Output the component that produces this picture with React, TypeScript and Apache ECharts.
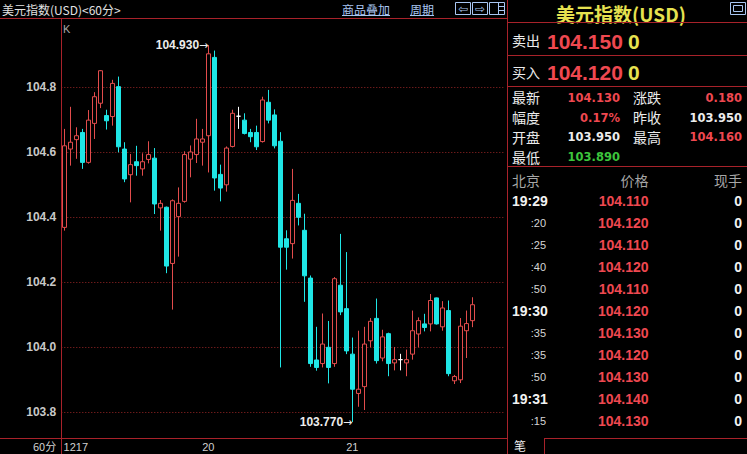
import React, { useEffect, useRef } from 'react';
import * as echarts from 'echarts';

// Hourly candles, each row: [open, close, low, high]
const candles: number[][] = [
  [104.369, 104.620, 104.359, 104.672],
  [104.610, 104.631, 104.559, 104.740],
  [104.639, 104.651, 104.580, 104.677],
  [104.661, 104.569, 104.549, 104.672],
  [104.569, 104.699, 104.565, 104.730],
  [104.689, 104.771, 104.641, 104.785],
  [104.751, 104.851, 104.736, 104.853],
  [104.713, 104.697, 104.670, 104.731],
  [104.710, 104.812, 104.682, 104.823],
  [104.802, 104.617, 104.600, 104.833],
  [104.610, 104.518, 104.508, 104.631],
  [104.531, 104.562, 104.446, 104.595],
  [104.571, 104.559, 104.528, 104.620],
  [104.549, 104.571, 104.528, 104.597],
  [104.578, 104.593, 104.566, 104.634],
  [104.582, 104.441, 104.410, 104.613],
  [104.429, 104.443, 104.359, 104.453],
  [104.431, 104.250, 104.228, 104.433],
  [104.258, 104.451, 104.116, 104.455],
  [104.402, 104.443, 104.279, 104.492],
  [104.449, 104.593, 104.445, 104.603],
  [104.579, 104.601, 104.523, 104.621],
  [104.593, 104.641, 104.567, 104.703],
  [104.631, 104.641, 104.559, 104.672],
  [104.651, 104.903, 104.538, 104.930],
  [104.892, 104.521, 104.482, 104.913],
  [104.532, 104.490, 104.449, 104.562],
  [104.500, 104.613, 104.479, 104.618],
  [104.618, 104.720, 104.615, 104.731],
  [104.711, 104.711, 104.672, 104.740],
  [104.699, 104.658, 104.655, 104.720],
  [104.661, 104.648, 104.631, 104.672],
  [104.661, 104.617, 104.607, 104.682],
  [104.633, 104.761, 104.630, 104.771],
  [104.754, 104.699, 104.689, 104.792],
  [104.715, 104.620, 104.612, 104.732],
  [104.634, 104.308, 103.938, 104.662],
  [104.334, 104.308, 104.239, 104.360],
  [104.319, 104.452, 104.273, 104.549],
  [104.443, 104.400, 104.375, 104.472],
  [104.360, 104.220, 104.140, 104.411],
  [104.213, 103.950, 103.940, 104.221],
  [103.961, 103.938, 103.928, 104.063],
  [103.950, 104.010, 103.938, 104.104],
  [104.000, 103.938, 103.889, 104.081],
  [103.950, 104.211, 103.940, 104.216],
  [104.191, 104.109, 104.099, 104.349],
  [104.119, 103.989, 103.979, 104.293],
  [103.979, 103.871, 103.770, 104.030],
  [103.858, 103.871, 103.817, 104.051],
  [103.879, 104.010, 103.807, 104.063],
  [104.020, 104.080, 104.000, 104.090],
  [104.089, 103.959, 103.950, 104.150],
  [103.967, 104.032, 103.957, 104.054],
  [104.042, 103.950, 103.911, 104.045],
  [103.952, 103.962, 103.929, 104.001],
  [103.962, 103.962, 103.929, 103.980],
  [103.952, 103.962, 103.911, 103.993],
  [103.979, 104.051, 103.962, 104.113],
  [104.041, 104.082, 104.000, 104.092],
  [104.072, 104.061, 104.049, 104.103],
  [104.072, 104.144, 104.049, 104.164],
  [104.152, 104.072, 104.070, 104.153],
  [104.063, 104.121, 104.051, 104.142],
  [104.113, 103.919, 103.911, 104.144],
  [103.897, 103.910, 103.887, 103.915],
  [103.900, 104.065, 103.890, 104.090],
  [104.051, 104.073, 103.967, 104.113],
  [104.082, 104.131, 104.062, 104.154],
];

// Day labels on the time axis (candle index -> text)
const dayLabelIndex = [0, 24, 48];
const dayLabelText = ['1217', '20', '21'];

// Price grid levels
const priceTicks = [103.8, 104.0, 104.2, 104.4, 104.6, 104.8];

// Quote panel
const quoteTitle = '美元指数(USD)';
const askPrice = 104.15;
const bidPrice = 104.12;
const askSize = 0;
const bidSize = 0;
const lastPrice = 104.13;
const priceChange = 0.18;
const pctChange = 0.17;
const prevClose = 103.95;
const openPrice = 103.95;
const highPrice = 104.16;
const lowPrice = 103.89;

// Tick-by-tick list
const tickTimes = ['19:29', ':20', ':25', ':40', ':50', '19:30', ':35', ':35', ':50', '19:31', ':15'];
const tickPrices = [104.11, 104.12, 104.11, 104.12, 104.11, 104.12, 104.13, 104.12, 104.13, 104.14, 104.13];
const tickVolumes = [0, 0, 0, 0, 0, 0, 0, 0, 0, 0, 0];

const LINE_RED = '#a8222a';
const DOT_RED = '#9a2626';
const UP = '#e24c4c';
const DOWN = '#1fe6e6';
const TXT_RED = '#ef4850';
const TXT_GREEN = '#3cc43c';
const TXT_WHITE = '#ececec';
const YELLOW = '#e6e250';
const LINK = '#a9c6f2';
const CJK = '"Noto Sans CJK SC", sans-serif';
const LAT = '"Liberation Sans", Arial, sans-serif';
const DV = '"DejaVu Sans", sans-serif';

function colorVs(v: number, ref: number) {
  if (v > ref) return TXT_RED;
  if (v < ref) return TXT_GREEN;
  return TXT_WHITE;
}

function txt(x: number, y: number, text: string, fill: string, font: string, align = 'left') {
  return {
    type: 'text',
    x,
    y,
    silent: true,
    style: { text, fill, font, align, verticalAlign: 'middle' },
  };
}

function hline(x1: number, x2: number, y: number, stroke = LINE_RED, w = 1) {
  return { type: 'line', silent: true, shape: { x1, y1: y, x2, y2: y }, style: { stroke, lineWidth: w } };
}

function vline(x: number, y1: number, y2: number, stroke = LINE_RED, w = 1) {
  return { type: 'line', silent: true, shape: { x1: x, y1, x2: x, y2 }, style: { stroke, lineWidth: w } };
}

function box(x: number, y: number, width: number, height: number, stroke: string) {
  return { type: 'rect', silent: true, shape: { x, y, width, height }, style: { fill: 'none', stroke, lineWidth: 1 } };
}

function buildGraphics() {
  const g: any[] = [];
  // frame of the chart area
  g.push(hline(0, 507, 18.5));
  g.push(hline(0, 507, 438.5));
  g.push(vline(61.5, 18, 454));
  g.push(vline(507.5, 0, 454));

  // header bar
  g.push(txt(2, 9.5, '美元指数(USD)<60分>', '#e2e2e2', `12px ${CJK}`));
  g.push(txt(342, 9, '商品叠加', LINK, `12px ${CJK}`));
  g.push(hline(342, 390, 15.5, LINK));
  g.push(txt(410, 9, '周期', LINK, `12px ${CJK}`));
  g.push(hline(410, 434, 15.5, LINK));
  g.push(box(455.5, 2.5, 15, 12, LINK));
  g.push(box(472.5, 2.5, 15, 12, LINK));
  g.push(box(489.5, 2.5, 15, 12, LINK));
  g.push(txt(463, 9, '⇦', LINK, `12px ${DV}`, 'center'));
  g.push(txt(480, 9, '⇨', LINK, `12px ${DV}`, 'center'));
  g.push(vline(498.5, 2.5, 14.5, LINK));
  g.push(hline(498.5, 504.5, 6.5, LINK));
  g.push(hline(498.5, 504.5, 10.5, LINK));
  g.push(txt(63, 29, 'K', '#a8a8a8', `11px ${LAT}`));
  g.push(txt(33, 446, '60分', '#d0d0d0', `11px ${CJK}`));

  // quote panel
  g.push(txt(621, 13, quoteTitle, YELLOW, `bold 19px ${CJK}`, 'center'));
  g.push(box(730.5, 2.5, 15, 12, LINK));
  g.push(box(733.5, 5.5, 9, 6, LINK));
  g.push(hline(507, 747, 22.5));
  g.push(hline(507, 747, 55.5));
  g.push(hline(507, 747, 86.5));
  g.push(hline(507, 747, 166.5));

  const quoteRows = [
    { label: '卖出', price: askPrice, size: askSize, y: 40 },
    { label: '买入', price: bidPrice, size: bidSize, y: 71.5 },
  ];
  quoteRows.forEach((r) => {
    g.push(txt(512, r.y, r.label, TXT_WHITE, `14px ${CJK}`));
    g.push(txt(547, r.y + 1, r.price.toFixed(3), TXT_RED, `bold 21px ${LAT}`));
    g.push(txt(628, r.y + 1, String(r.size), YELLOW, `bold 21px ${LAT}`));
  });

  const statFont = `bold 11.5px ${DV}`;
  const stats = [
    { l: '最新', v: lastPrice.toFixed(3), c: colorVs(lastPrice, prevClose), col: 0, row: 0 },
    { l: '涨跌', v: priceChange.toFixed(3), c: colorVs(priceChange, 0), col: 1, row: 0 },
    { l: '幅度', v: pctChange.toFixed(2) + '%', c: colorVs(pctChange, 0), col: 0, row: 1 },
    { l: '昨收', v: prevClose.toFixed(3), c: TXT_WHITE, col: 1, row: 1 },
    { l: '开盘', v: openPrice.toFixed(3), c: colorVs(openPrice, prevClose), col: 0, row: 2 },
    { l: '最高', v: highPrice.toFixed(3), c: colorVs(highPrice, prevClose), col: 1, row: 2 },
    { l: '最低', v: lowPrice.toFixed(3), c: colorVs(lowPrice, prevClose), col: 0, row: 3 },
  ];
  stats.forEach((s) => {
    const y = 97.3 + s.row * 19.8;
    const lx = s.col === 0 ? 512 : 633;
    const vx = s.col === 0 ? 620 : 742;
    g.push(txt(lx, y, s.l, TXT_WHITE, `14px ${CJK}`));
    g.push(txt(vx, y + 0.5, s.v, s.c, statFont, 'right'));
  });

  // tick list
  g.push(txt(512, 180, '北京', '#a6a6a6', `14px ${CJK}`));
  g.push(txt(648.5, 180, '价格', '#a6a6a6', `14px ${CJK}`, 'right'));
  g.push(txt(742, 180, '现手', '#a6a6a6', `14px ${CJK}`, 'right'));
  tickTimes.forEach((t, i) => {
    const y = 201 + i * 22.02;
    if (t.startsWith(':')) {
      g.push(txt(546, y, t, '#d6d6d6', `11px ${LAT}`, 'right'));
    } else {
      g.push(txt(512, y, t, '#f2f2f2', `bold 14px ${LAT}`));
    }
    g.push(txt(648.5, y, tickPrices[i].toFixed(3), colorVs(tickPrices[i], prevClose), `bold 14px ${LAT}`, 'right'));
    g.push(txt(742, y, String(tickVolumes[i]), '#f2f2f2', `bold 14px ${LAT}`, 'right'));
  });

  // bottom tab
  g.push(hline(544, 747, 438.5));
  g.push(vline(544.5, 438, 454));
  g.push(txt(514, 445.5, '笔', TXT_WHITE, `12px ${CJK}`));
  return g;
}

function buildOption() {
  const categories = candles.map((_, i) => String(i));
  let hiIdx = 0;
  let loIdx = 0;
  candles.forEach((c, i) => {
    if (c[3] > candles[hiIdx][3]) hiIdx = i;
    if (c[2] < candles[loIdx][2]) loIdx = i;
  });
  const hi = candles[hiIdx][3];
  const lo = candles[loIdx][2];

  const seriesData = candles.map((c) =>
    c[0] === c[1]
      ? {
          value: c,
          itemStyle: { color: '#ffffff', color0: '#ffffff', borderColor: '#ffffff', borderColor0: '#ffffff' },
        }
      : c
  );

  const extremeLabel = (v: number) => ({
    show: true,
    position: 'left',
    distance: 0,
    formatter: `{v|${v.toFixed(3)}}{a|→}`,
    rich: {
      v: { color: '#ececec', fontSize: 12, fontWeight: 'bold', fontFamily: LAT },
      a: { color: '#ececec', fontSize: 11, fontFamily: DV },
    },
  });

  return {
    animation: false,
    backgroundColor: '#000',
    grid: { left: 61.3, right: 241.7, top: 25.55, bottom: 15.7 },
    xAxis: {
      type: 'category',
      data: categories,
      boundaryGap: true,
      max: 73,
      axisLine: { show: false },
      axisTick: { show: false },
      splitLine: { show: false },
      axisLabel: {
        interval: 0,
        margin: 3,
        color: '#d0d0d0',
        fontSize: 11,
        fontFamily: LAT,
        formatter: (_v: string, i: number) => {
          const k = dayLabelIndex.indexOf(i);
          if (k < 0) return '';
          return k === 0 ? `{first|${dayLabelText[k]}}` : dayLabelText[k];
        },
        rich: {
          first: { padding: [0, 0, 0, 23], color: '#d0d0d0', fontSize: 11, fontFamily: LAT },
        },
      },
    },
    yAxis: {
      type: 'value',
      min: 103.72,
      max: 104.99,
      minInterval: 0.2,
      maxInterval: 0.2,
      scale: true,
      axisLine: { show: false },
      axisTick: { show: false },
      splitLine: { show: false },
      axisLabel: {
        showMinLabel: false,
        showMaxLabel: false,
        margin: 5,
        color: '#c8c8c8',
        fontSize: 12,
        fontWeight: 'bold',
        fontFamily: LAT,
        formatter: (v: number) => v.toFixed(1),
      },
    },
    series: [
      {
        type: 'candlestick',
        data: seriesData,
        barWidth: 4,
        itemStyle: {
          color: '#000',
          color0: DOWN,
          borderColor: UP,
          borderColor0: DOWN,
          borderWidth: 1,
        },
        markLine: {
          silent: true,
          z: 1,
          symbol: ['none', 'none'],
          label: { show: false },
          lineStyle: { type: [1, 2], color: DOT_RED, width: 1 },
          data: priceTicks.map((v) => ({ yAxis: v })),
        },
        markPoint: {
          silent: true,
          symbol: 'circle',
          symbolSize: 0,
          data: [
            { coord: [hiIdx, hi], value: hi, label: extremeLabel(hi) },
            { coord: [loIdx, lo], value: lo, label: extremeLabel(lo) },
          ],
        },
      },
    ],
    graphic: buildGraphics(),
  };
}

export default function App() {
  const ref = useRef<HTMLDivElement>(null);
  useEffect(() => {
    const chart = echarts.init(ref.current!, undefined, { renderer: 'svg' });
    chart.setOption(buildOption() as any);
    return () => chart.dispose();
  }, []);
  return (
    <div
      ref={ref}
      style={{ position: 'fixed', left: 0, top: 0, width: 747, height: 454, background: '#000' }}
    />
  );
}
